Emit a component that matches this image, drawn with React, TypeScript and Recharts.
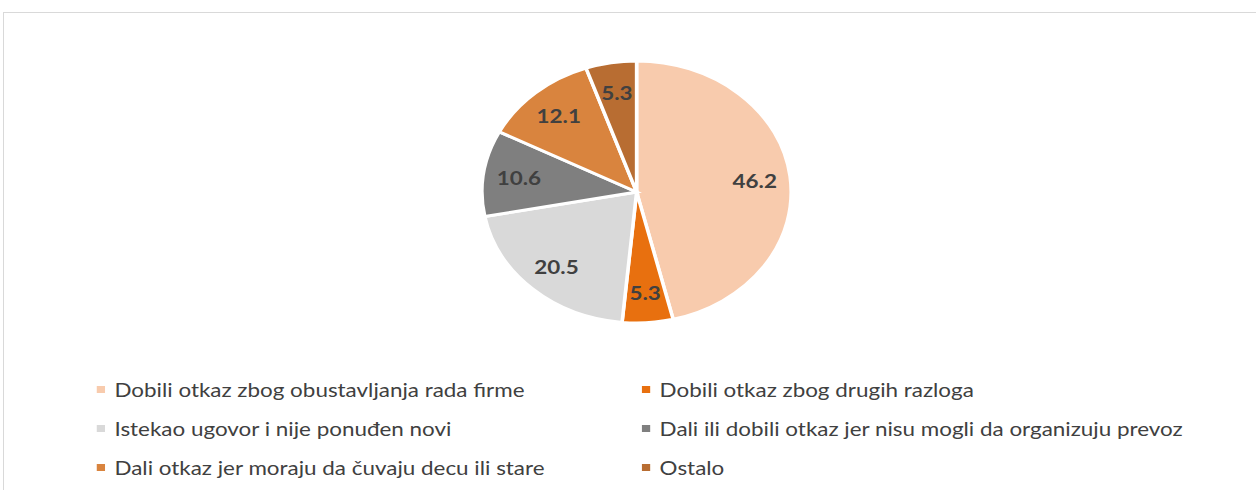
import { PieChart, Pie, Cell, Legend } from "recharts";

const categories = [
  "Dobili otkaz zbog obustavljanja rada firme",
  "Dobili otkaz zbog drugih razloga",
  "Istekao ugovor i nije ponuđen novi",
  "Dali ili dobili otkaz jer nisu mogli da organizuju prevoz",
  "Dali otkaz jer moraju da čuvaju decu ili stare",
  "Ostalo",
];
const shares = [46.2, 5.3, 20.5, 10.6, 12.1, 5.3];
const colors = ["#F8CBAD", "#E8700F", "#D9D9D9", "#7F7F7F", "#D9843E", "#B86D32"];

const data = categories.map((name, i) => ({ name, value: shares[i] }));

const STRETCH = 1.18;
const W = 1064;
const H = 490;
const FONT = "Lato, 'Open Sans', sans-serif";

const RAD = Math.PI / 180;

function renderLabel(props: any) {
  const { cx, cy, midAngle, outerRadius, value } = props;
  const r = outerRadius * 0.77;
  const x = cx + r * Math.cos(-midAngle * RAD);
  const y = cy + r * Math.sin(-midAngle * RAD);
  return (
    <text x={x} y={y} fill="#404040" fontSize={19} fontWeight={700} fontFamily={FONT} textAnchor="middle" dominantBaseline="central">
      {value.toFixed(1)}
    </text>
  );
}

function LegendGrid() {
  return (
    <div style={{ position: "relative", width: W, height: 110, fontFamily: FONT, fontSize: 19, color: "#404040" }}>
      {categories.map((name, i) => {
        const col = i % 2;
        const row = Math.floor(i / 2);
        return (
          <div key={name} style={{ position: "absolute", left: col === 0 ? 82 : 544, top: row * 39, display: "flex", alignItems: "center", whiteSpace: "nowrap", height: 28 }}>
            <span style={{ display: "inline-block", width: 7, height: 7, background: colors[i], marginRight: 8 }} />
            <span>{name}</span>
          </div>
        );
      })}
    </div>
  );
}

export default function App() {
  return (
    <div style={{ position: "absolute", left: 0, top: 0, width: 1256, height: 490, overflow: "hidden", background: "#fff" }}>
      <div style={{ position: "absolute", left: 3, top: 12, width: 1300, height: 500, border: "1px solid #d9d9d9" }} />
      <div style={{ position: "absolute", left: 0, top: 0, width: W, height: H, transform: `scaleX(${STRETCH})`, transformOrigin: "0 0" }}>
        <PieChart width={W} height={H}>
          <Pie
            data={data}
            dataKey="value"
            nameKey="name"
            cx={534.5}
            cy={187}
            outerRadius={131}
            startAngle={90}
            endAngle={-270}
            stroke="#ffffff"
            strokeWidth={3}
            label={renderLabel}
            labelLine={false}
            isAnimationActive={false}
          >
            {data.map((d, i) => (
              <Cell key={d.name} fill={colors[i]} />
            ))}
          </Pie>
          <Legend content={() => <LegendGrid />} wrapperStyle={{ position: "absolute", left: 0, top: 375, width: W }} />
        </PieChart>
      </div>
    </div>
  );
}
